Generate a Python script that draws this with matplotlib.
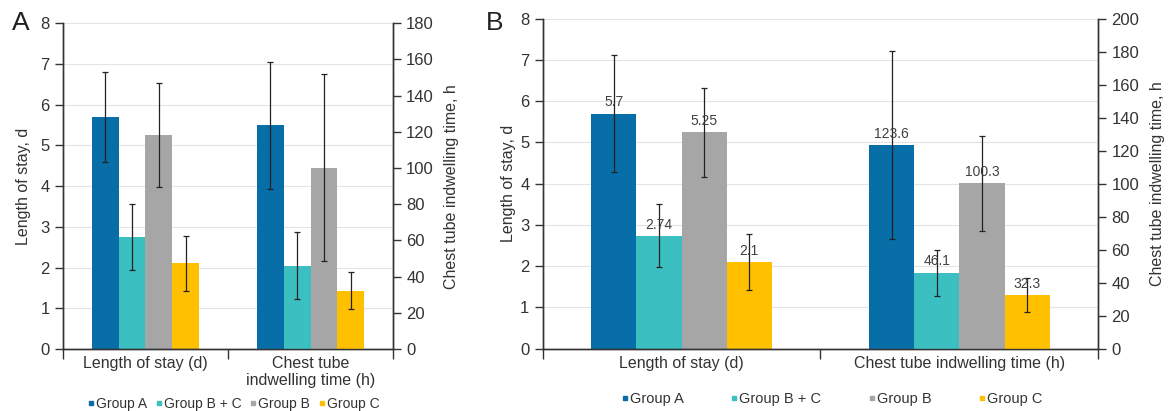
import matplotlib.pyplot as plt
from matplotlib.lines import Line2D

plt.rcParams['font.family'] = ['Liberation Sans', 'DejaVu Sans']

groups = ['Group A', 'Group B + C', 'Group B', 'Group C']
colors = ['#086ea8', '#3bbfc1', '#a6a6a6', '#ffc000']
categories_a = ['Length of stay (d)', 'Chest tube\nindwelling time (h)']
categories_b = ['Length of stay (d)', 'Chest tube indwelling time (h)']

# panel A
los_a = [5.7, 2.74, 5.25, 2.1]
los_a_err = [1.1, 0.81, 1.28, 0.68]
tube_a = [123.6, 46.1, 100.3, 32.3]
tube_a_err = [35, 18.6, 51.5, 10.4]

# panel B
los_b = [5.7, 2.74, 5.25, 2.1]
los_b_err = [1.41, 0.77, 1.08, 0.68]
tube_b = [123.6, 46.1, 100.3, 32.3]
tube_b_err = [57, 14, 28.7, 10.3]

fig = plt.figure(figsize=(11.68, 4.11), dpi=100)
axA = fig.add_axes([0.0539, 0.1509, 0.2826, 0.7924])
axB = fig.add_axes([0.4646, 0.1516, 0.4757, 0.8027])

w = 0.1625
offs = [-1.5, -0.5, 0.5, 1.5]
ekw = dict(ecolor='#222222', elinewidth=0.9, capsize=2.2, capthick=0.9)


def panel(ax, los, los_err, tube, tube_err, ymax2, cats, labels, lp_left, lp_right):
    ax2 = ax.twinx()
    for i in range(4):
        x0 = offs[i] * w
        ax.bar(x0, los[i], w, color=colors[i], yerr=los_err[i], error_kw=ekw, zorder=2)
        ax2.bar(1 + x0, tube[i], w, color=colors[i], yerr=tube_err[i], error_kw=ekw, zorder=2)
        if labels:
            ax.annotate(f'{los[i]:g}', (x0, los[i]), xytext=(0, 3), textcoords='offset points',
                        ha='center', va='bottom', fontsize=10, color='#404040', zorder=5)
            ax2.annotate(f'{tube[i]:g}', (1 + x0, tube[i]), xytext=(0, 3), textcoords='offset points',
                         ha='center', va='bottom', fontsize=10, color='#404040', zorder=5)
    ax.set_ylim(0, 8)
    ax2.set_ylim(0, ymax2)
    ax.set_xlim(-0.5, 1.5)
    ax.set_yticks(range(0, 9))
    ax2.set_yticks(range(0, ymax2 + 1, 20))
    ax.yaxis.grid(True, color='#e4e4e4', lw=0.8)
    ax.set_axisbelow(True)
    ax.set_xticks([-0.5, 0.5, 1.5])
    ax.set_xticklabels([])
    ax.set_xticks([0, 1], minor=True)
    ax.set_xticklabels(cats, minor=True, fontsize=11.5, color='#333333')
    ax.tick_params(axis='x', which='major', length=7, width=1, color='#333333')
    ax.tick_params(axis='x', which='minor', length=0, pad=5)
    ax.tick_params(axis='y', length=6, width=1, color='#333333', labelsize=12, labelcolor='#333333')
    ax2.tick_params(axis='y', length=6, width=1, color='#333333', labelsize=12, labelcolor='#333333')
    for a in (ax, ax2):
        a.spines['top'].set_visible(False)
        for s in ('left', 'right', 'bottom'):
            a.spines[s].set_color('#333333')
            a.spines[s].set_linewidth(1)
    ax.set_ylabel('Length of stay, d', fontsize=11.5, color='#333333', labelpad=lp_left)
    ax2.set_ylabel('Chest tube indwelling time, h', fontsize=11.5, color='#333333', labelpad=lp_right)
    return ax2


panel(axA, los_a, los_a_err, tube_a, tube_a_err, 180, categories_a, False, 7, 7)
panel(axB, los_b, los_b_err, tube_b, tube_b_err, 200, categories_b, True, 3, 8)

fig.text(0.010, 0.945, 'A', fontsize=19, ha='left', va='center', color='#222222')
fig.text(0.416, 0.945, 'B', fontsize=19, ha='left', va='center', color='#222222')

handles = [Line2D([], [], ls='none', marker='s', ms=3, color=c) for c in colors]
fig.legend(handles, groups, loc='center', bbox_to_anchor=(0.2, 0.017), ncol=4, frameon=False,
           fontsize=10, handlelength=0.5, handletextpad=0.1, columnspacing=0.6,
           labelcolor='#333333', borderpad=0)
fig.legend(handles, groups, loc='center', bbox_to_anchor=(0.712, 0.029), ncol=4, frameon=False,
           fontsize=10.5, handlelength=0.5, handletextpad=0.1, columnspacing=3.2,
           labelcolor='#333333', borderpad=0)

fig.savefig('out.png', dpi=100)
